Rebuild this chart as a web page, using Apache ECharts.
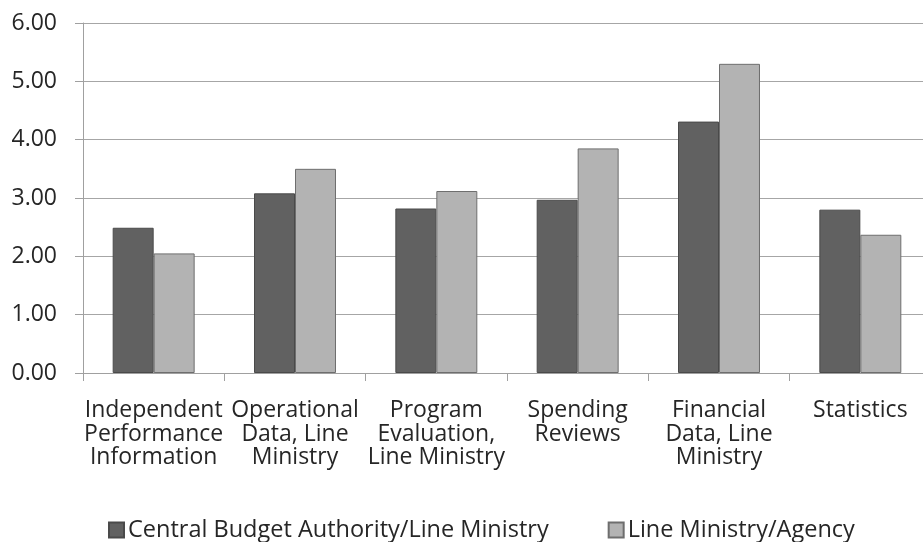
<!DOCTYPE html>
<html>
<head>
<meta charset="utf-8">
<script src="https://cdn.jsdelivr.net/npm/echarts@6/dist/echarts.min.js"></script>
<style>
html,body{margin:0;padding:0;background:#fff;overflow:hidden;}
#chart{width:932px;height:542px;}
</style>
</head>
<body>
<div id="chart"></div>
<script>
var categories = [
  'Independent\nPerformance\nInformation',
  'Operational\nData, Line\nMinistry',
  'Program\nEvaluation,\nLine Ministry',
  'Spending\nReviews',
  'Financial\nData, Line\nMinistry',
  'Statistics'
];
var seriesNames = ['Central Budget Authority/Line Ministry', 'Line Ministry/Agency'];
var centralBudget = [2.49, 3.08, 2.82, 2.97, 4.31, 2.80];
var lineMinistry = [2.05, 3.50, 3.12, 3.85, 5.30, 2.37];
var yTicks = [0, 1, 2, 3, 4, 5, 6];

var FONT = 'Open Sans';
var chart = echarts.init(document.getElementById('chart'), null, {renderer: 'canvas'});
chart.setOption({
  animation: false,
  backgroundColor: '#ffffff',
  textStyle: {fontFamily: FONT},
  grid: {left: 83, right: 1, top: 23, height: 350, containLabel: false},
  legend: {
    data: seriesNames,
    left: 108,
    top: 518,
    padding: 0,
    itemWidth: 15,
    itemHeight: 15,
    itemGap: 59,
    icon: 'rect',
    textStyle: {fontFamily: FONT, fontSize: 23.5, color: '#262626', padding: [0, 0, 0, -1]}
  },
  xAxis: {
    type: 'category',
    data: categories,
    axisLine: {show: true, lineStyle: {color: '#a0a0a0', width: 1}},
    axisTick: {show: true, length: 8, alignWithLabel: false, lineStyle: {color: '#a0a0a0'}},
    axisLabel: {
      interval: 0,
      margin: 26,
      fontFamily: FONT,
      fontSize: 23,
      lineHeight: 23.5,
      color: '#262626',
      align: 'center'
    }
  },
  yAxis: {
    type: 'value',
    min: yTicks[0],
    max: yTicks[yTicks.length - 1],
    interval: 1,
    axisLine: {show: true, lineStyle: {color: '#a0a0a0', width: 1}},
    axisTick: {show: true, length: 8, lineStyle: {color: '#a0a0a0'}},
    splitLine: {show: true, lineStyle: {color: '#a6a6a6', width: 1}},
    axisLabel: {
      margin: 26,
      fontFamily: FONT,
      fontSize: 23,
      color: '#262626',
      formatter: function (v) { return v.toFixed(2); }
    }
  },
  series: [
    {
      name: seriesNames[0],
      type: 'bar',
      data: centralBudget,
      barGap: '0%',
      barCategoryGap: '42%',
      itemStyle: {color: '#616161', borderColor: '#4a4a4a', borderWidth: 1}
    },
    {
      name: seriesNames[1],
      type: 'bar',
      data: lineMinistry,
      itemStyle: {color: '#b3b3b3', borderColor: '#6e6e6e', borderWidth: 1}
    }
  ]
});
</script>
</body>
</html>
